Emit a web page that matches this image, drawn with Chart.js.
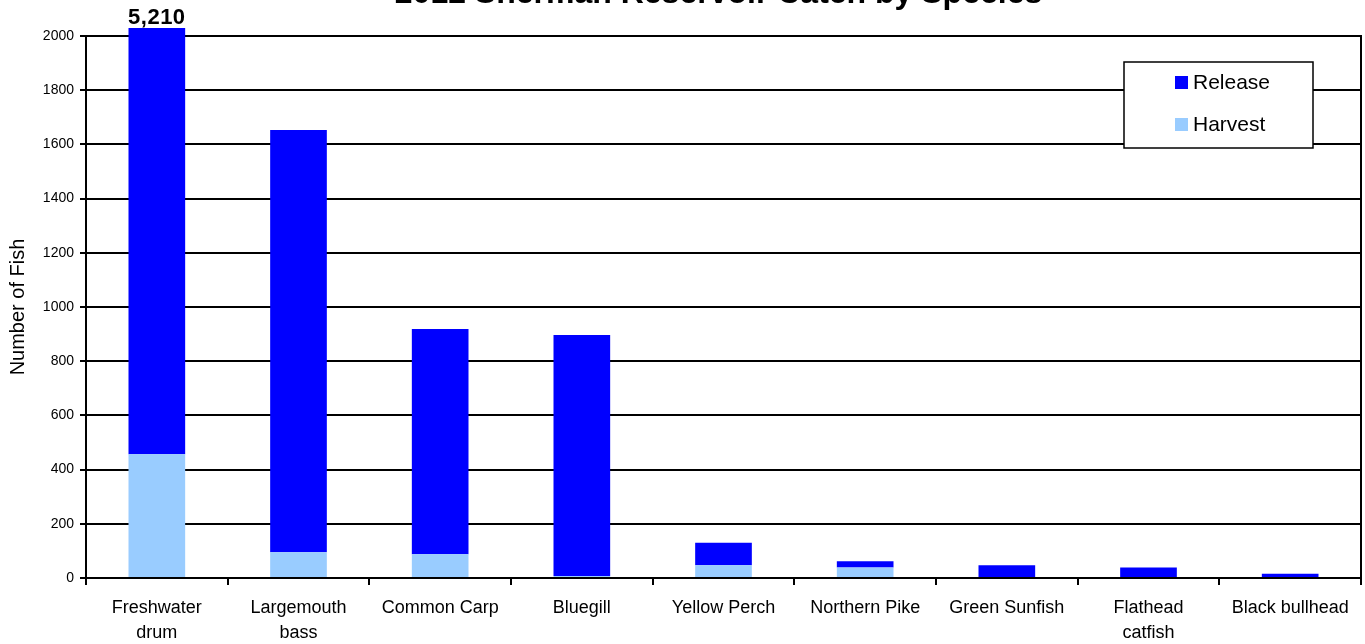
<!DOCTYPE html>
<html>
<head>
<meta charset="utf-8">
<script src="https://cdn.jsdelivr.net/npm/chart.js@4.4.0/dist/chart.umd.min.js"></script>
<style>
  html, body { margin: 0; padding: 0; background: #fff; }
  #wrap { width: 1365px; height: 644px; position: relative; }
</style>
</head>
<body>
<div id="wrap"><canvas id="catchChart" width="1365" height="644"></canvas></div>
<script>
const chartTitle = "2012 Sherman Reservoir Catch by Species";
const species = [
    ["Freshwater", "drum"], ["Largemouth", "bass"], "Common Carp", "Bluegill",
    "Yellow Perch", "Northern Pike", "Green Sunfish", ["Flathead", "catfish"], "Black bullhead"
];
const harvest = [457, 95, 88, 7, 47, 39, 0, 0, 0];
const release = [4753, 1558, 831, 890, 83, 23, 47, 39, 16];
const yTicks = [0, 200, 400, 600, 800, 1000, 1200, 1400, 1600, 1800, 2000];

const FONT = "Arial, 'Liberation Sans', sans-serif";

// title sits partly above the canvas, as in the original
const titlePlugin = {
    id: "topTitle",
    afterDraw(chart) {
        const { ctx, chartArea } = chart;
        ctx.save();
        ctx.font = `bold 32px ${FONT}`;
        ctx.fillStyle = "#000";
        ctx.textAlign = "center";
        ctx.textBaseline = "alphabetic";
        ctx.fillText(chartTitle, (chartArea.left + chartArea.right) / 2 - 5, 3);
        ctx.restore();
    }
};

// value label for bars that run off the top of the axis
const overflowLabels = {
    id: "overflowLabels",
    afterDatasetsDraw(chart) {
        const { ctx, chartArea } = chart;
        const yScale = chart.scales.y;
        const meta = chart.getDatasetMeta(1);
        ctx.save();
        ctx.font = `bold 22px ${FONT}`;
        ctx.letterSpacing = "0.5px";
        ctx.fillStyle = "#000";
        ctx.textAlign = "center";
        ctx.textBaseline = "middle";
        release.forEach((r, i) => {
            const total = r + harvest[i];
            if (total > yScale.max) {
                ctx.fillText(total.toLocaleString("en-US"), meta.data[i].x, chartArea.top - 18);
            }
        });
        ctx.restore();
    }
};

// right frame line + boxed legend inside the plot
const frameAndLegend = {
    id: "frameAndLegend",
    afterDraw(chart) {
        const { ctx, chartArea } = chart;
        ctx.save();
        ctx.strokeStyle = "#000";
        ctx.lineWidth = 2;
        ctx.beginPath();
        ctx.moveTo(chartArea.right, chartArea.top - 1);
        ctx.lineTo(chartArea.right, chartArea.bottom);
        ctx.stroke();

        const bx = chartArea.right - 237, by = chartArea.top + 26, bw = 189, bh = 86;
        ctx.fillStyle = "#fff";
        ctx.fillRect(bx, by, bw, bh);
        ctx.lineWidth = 1.5;
        ctx.strokeRect(bx, by, bw, bh);

        const items = [chart.data.datasets[1], chart.data.datasets[0]];
        ctx.font = `21px ${FONT}`;
        ctx.textBaseline = "middle";
        ctx.textAlign = "left";
        items.forEach((ds, k) => {
            const cy = by + 20 + k * 42;
            ctx.fillStyle = ds.backgroundColor;
            ctx.fillRect(bx + 51, cy - 6, 13, 13);
            ctx.fillStyle = "#000";
            ctx.fillText(ds.label, bx + 69, cy + 1);
        });
        ctx.restore();
    }
};

new Chart(document.getElementById("catchChart"), {
    type: "bar",
    data: {
        labels: species,
        datasets: [
            {
                label: "Harvest",
                data: harvest,
                backgroundColor: "#99ccff",
                barPercentage: 0.4,
                categoryPercentage: 1.0,
                clip: { left: 0, top: 8, right: 0, bottom: 0 }
            },
            {
                label: "Release",
                data: release,
                backgroundColor: "#0000ff",
                barPercentage: 0.4,
                categoryPercentage: 1.0,
                clip: { left: 0, top: 8, right: 0, bottom: 0 }
            }
        ]
    },
    options: {
        responsive: false,
        animation: false,
        layout: { padding: { top: 36, right: 4, left: 0, bottom: 0 } },
        plugins: {
            legend: { display: false },
            title: { display: false },
            tooltip: { enabled: false }
        },
        scales: {
            x: {
                stacked: true,
                afterFit: (axis) => { axis.height = 66; },
                grid: {
                    display: true,
                    drawOnChartArea: false,
                    offset: true,
                    color: "#000",
                    lineWidth: 2,
                    tickLength: 7
                },
                border: { color: "#000", width: 2 },
                ticks: {
                    color: "#000",
                    font: { family: FONT, size: 18, lineHeight: 1.39 },
                    padding: 11,
                    maxRotation: 0,
                    autoSkip: false
                }
            },
            y: {
                stacked: true,
                min: 0,
                max: 2000,
                afterFit: (axis) => { axis.width = 86; },
                afterBuildTicks: (axis) => { axis.ticks = yTicks.map(v => ({ value: v })); },
                grid: { color: "#000", lineWidth: 2, tickLength: 6 },
                border: { color: "#000", width: 2 },
                ticks: {
                    color: "#000",
                    font: { family: FONT, size: 14 },
                    padding: 6,
                    callback: (v) => String(v)
                },
                title: {
                    display: true,
                    text: "Number of Fish",
                    color: "#000",
                    font: { family: FONT, size: 20 },
                    padding: { top: 6, bottom: 6 }
                }
            }
        }
    },
    plugins: [titlePlugin, overflowLabels, frameAndLegend]
});
</script>
</body>
</html>
